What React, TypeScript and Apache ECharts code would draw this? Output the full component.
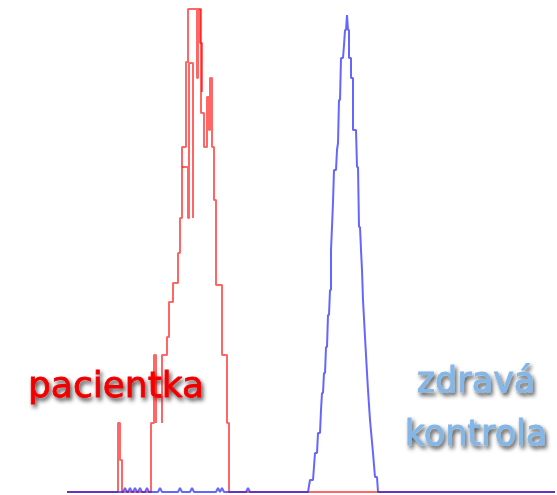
import React, { useEffect, useRef } from "react";
import * as echarts from "echarts";

// channel (x) and count (y) pairs
const redOutlineX = [0, 51, 51, 53, 53, 55, 55, 84, 84, 87, 87, 89, 89, 95, 95, 100, 100, 102, 102, 106, 106, 111, 111, 113, 113, 115, 115, 119, 119, 121, 121, 130, 130, 131, 131, 134, 134, 137, 137, 140, 140, 142, 142, 143, 143, 145, 145, 147, 147, 149, 149, 155, 155, 160, 160, 162, 162, 488];
const redOutlineY = [0, 0, 69, 69, 32, 32, 0, 0, 69, 69, 137, 137, 95, 95, 137, 137, 155, 155, 190, 190, 209, 209, 239, 239, 274, 274, 345, 345, 430, 430, 483, 483, 414, 414, 483, 483, 379, 379, 345, 345, 395, 395, 362, 362, 414, 414, 345, 345, 292, 292, 207, 207, 137, 137, 69, 69, 0, 0];

const redInnerAX = [115, 121, 121, 122, 122, 126, 126];
const redInnerAY = [325, 325, 274, 274, 429, 429, 274];
const redInnerBX = [89, 89, 95, 95];
const redInnerBY = [69, 95, 95, 69];
const redInnerCX = [133, 133, 135, 135];
const redInnerCY = [483, 449, 449, 400];

const blueX = [0, 56, 58, 60, 61, 63, 65, 66, 68, 70, 71, 73, 75, 78, 80, 82, 91, 93, 95, 111, 113, 115, 123, 125, 127, 149, 151, 153, 155, 157, 179, 181, 183,
  241, 243, 246, 248, 250, 251, 253, 254, 255, 256, 257, 258, 259, 260, 261, 262, 263, 264, 264, 265, 266, 267, 269, 270, 271, 272, 273, 274, 276, 277, 278, 279, 280,
  281, 282, 282, 284, 284, 286, 286, 289, 290, 291, 292, 293, 294, 295, 296, 298, 300, 301, 303, 306, 308, 310, 311, 488];
const blueY = [0, 0, 4, 0, 0, 4, 0, 0, 4, 0, 0, 4, 0, 0, 4, 0, 0, 4, 0, 0, 4, 0, 0, 4, 0, 0, 4, 0, 4, 0, 0, 4, 0,
  0, 12, 12, 39, 39, 59, 59, 82, 99, 99, 119, 119, 145, 145, 177, 177, 202, 202, 242, 265, 290, 322, 322, 342, 349, 392, 392, 434, 434, 447, 462, 462, 477,
  462, 462, 434, 434, 414, 414, 362, 362, 325, 325, 265, 265, 242, 222, 192, 155, 119, 102, 72, 39, 15, 15, 0, 0];

const labelPatient = "pacientka";
const labelControl = ["zdravá", "kontrola"];

const zip = (xs: number[], ys: number[]) => xs.map((x, i) => [x, ys[i]]);

export default function App() {
  const ref = useRef<HTMLDivElement>(null);
  useEffect(() => {
    if (!ref.current) return;
    const chart = echarts.init(ref.current, undefined, { renderer: "svg" });
    const red = "rgba(255,0,0,0.6)";
    const blue = "rgba(20,20,255,0.65)";
    const lineSeries = (data: number[][], color: string, z: number) => ({
      type: "line",
      data,
      symbol: "none",
      z,
      lineStyle: { color, width: 2 },
      silent: true,
    });
    const shadow = {
      textShadowColor: "rgba(0,0,0,0.7)",
      textShadowBlur: 4,
      textShadowOffsetX: 2,
      textShadowOffsetY: 3,
    };
    chart.setOption({
      animation: false,
      grid: { left: 67, right: 0, top: 0, bottom: 3 },
      xAxis: { type: "value", min: 0, max: 490, show: false },
      yAxis: { type: "value", min: 0, max: 492, show: false },
      graphic: [
        {
          type: "text",
          x: 28,
          y: 384,
          z: 0,
          style: {
            text: labelPatient,
            fill: "#ee0000",
            stroke: "#ee0000",
            lineWidth: 0.8,
            font: "36px 'DejaVu Sans'",
            verticalAlign: "middle",
            align: "left",
            ...shadow,
          },
        },
        {
          type: "text",
          x: 476,
          y: 380,
          z: 0,
          style: {
            text: labelControl[0],
            fill: "#84b6e6",
            stroke: "#84b6e6",
            lineWidth: 0.8,
            font: "35px 'DejaVu Sans'",
            verticalAlign: "middle",
            align: "center",
            ...shadow,
          },
        },
        {
          type: "text",
          x: 476,
          y: 433,
          z: 0,
          style: {
            text: labelControl[1],
            fill: "#84b6e6",
            stroke: "#84b6e6",
            lineWidth: 0.8,
            font: "35px 'DejaVu Sans'",
            verticalAlign: "middle",
            align: "center",
            ...shadow,
          },
        },
      ],
      series: [
        lineSeries(zip(redOutlineX, redOutlineY), red, 3),
        lineSeries(zip(redInnerAX, redInnerAY), red, 3),
        lineSeries(zip(redInnerBX, redInnerBY), red, 3),
        lineSeries(zip(redInnerCX, redInnerCY), red, 3),
        lineSeries(zip(blueX, blueY), blue, 4),
      ],
    });
    return () => chart.dispose();
  }, []);
  return <div ref={ref} style={{ width: 557, height: 495, position: "absolute", left: 0, top: 0 }} />;
}
